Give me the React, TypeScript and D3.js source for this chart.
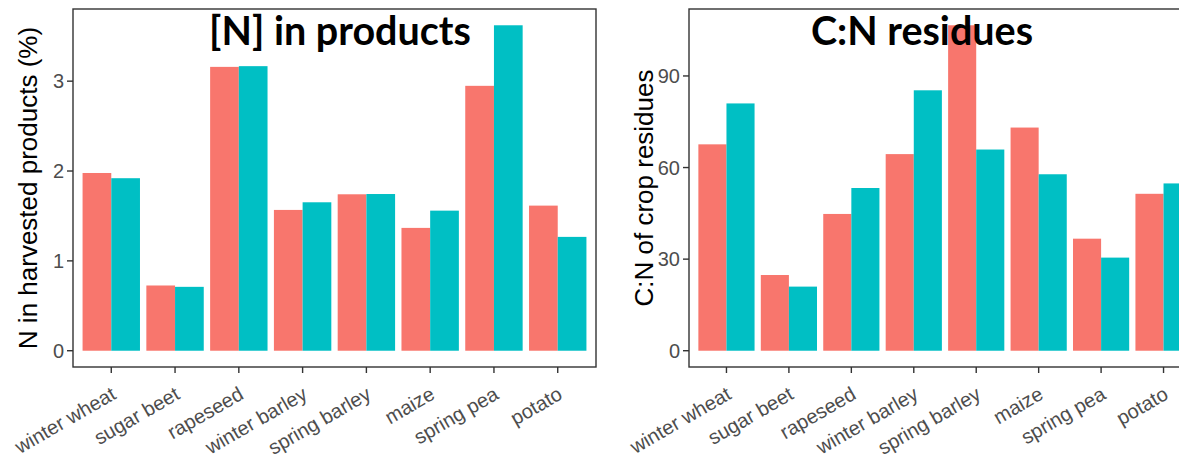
import React from "react";
import * as d3 from "d3";

const crops = ["winter wheat", "sugar beet", "rapeseed", "winter barley", "spring barley", "maize", "spring pea", "potato"];
const nProductsA = [1.978, 0.726, 3.159, 1.567, 1.741, 1.367, 2.948, 1.615];
const nProductsB = [1.92, 0.711, 3.167, 1.652, 1.744, 1.559, 3.622, 1.267];
const cnResiduesA = [67.6, 24.8, 44.8, 64.4, 106.6, 73.1, 36.7, 51.4];
const cnResiduesB = [81.0, 21.0, 53.3, 85.3, 65.9, 57.8, 30.5, 54.8];
const nTicks = [0, 1, 2, 3];
const cnTicks = [0, 30, 60, 90];
const seriesColors = ["#F8766D", "#00BFC4"];

type PanelProps = {
  left: number;
  right: number;
  top: number;
  bottom: number;
  a: number[];
  b: number[];
  ticks: number[];
  yTitle: string;
  title: string;
  titleX: number;
};

function Panel({ left, right, top, bottom, a, b, ticks, yTitle, title, titleX }: PanelProps) {
  const maxV = d3.max([...a, ...b]) as number;
  const pad = maxV * 0.05;
  const y = d3.scaleLinear().domain([-pad, maxV + pad]).range([bottom, top]);
  const idx = d3.range(crops.length);
  const x = d3.scaleLinear().domain([0.4, crops.length + 0.6]).range([left, right]);
  const bw = x(1.9) - x(1);
  const half = bw / 2;
  const font = "'Liberation Sans', Arial, sans-serif";
  return (
    <g>
      {idx.map((i) => (
        <g key={i}>
          <rect x={x(i + 1) - half} y={y(a[i])} width={half} height={y(0) - y(a[i])} fill={seriesColors[0]} />
          <rect x={x(i + 1)} y={y(b[i])} width={half} height={y(0) - y(b[i])} fill={seriesColors[1]} />
        </g>
      ))}
      <rect x={left} y={top} width={right - left} height={bottom - top} fill="none" stroke="#333333" strokeWidth={1.4} />
      {ticks.map((t) => (
        <g key={t}>
          <line x1={left - 6} x2={left} y1={y(t)} y2={y(t)} stroke="#333333" strokeWidth={1.4} />
          <text x={left - 9} y={y(t)} dy="0.36em" textAnchor="end" fontFamily={font} fontSize={20} fill="#4D4D4D">
            {t}
          </text>
        </g>
      ))}
      {idx.map((i) => (
        <g key={i}>
          <line x1={x(i + 1)} x2={x(i + 1)} y1={bottom} y2={bottom + 6} stroke="#333333" strokeWidth={1.4} />
          <text
            transform={`translate(${x(i + 1) + 6},${bottom + 31}) rotate(-30)`}
            textAnchor="end"
            fontFamily={font}
            fontSize={20}
            fill="#4D4D4D"
          >
            {crops[i]}
          </text>
        </g>
      ))}
      <text
        transform={`translate(${left - 36},${(top + bottom) / 2}) rotate(-90)`}
        textAnchor="middle"
        fontFamily={font}
        fontSize={26}
        fill="#000000"
      >
        {yTitle}
      </text>
      <text x={titleX} y={45} textAnchor="middle" fontFamily="Lato, sans-serif" fontWeight="bold" fontSize={39.5} fill="#000000">
        {title}
      </text>
    </g>
  );
}

export default function App() {
  return (
    <svg width={1179} height={456} style={{ display: "block", position: "absolute", left: 0, top: 0, background: "#ffffff" }}>
      <rect x={0} y={0} width={1179} height={456} fill="#ffffff" />
      <Panel left={73} right={596} top={9} bottom={367} a={nProductsA} b={nProductsB} ticks={nTicks} yTitle="N in harvested products (%)" title="[N] in products" titleX={340} />
      <Panel left={689} right={1201} top={9} bottom={367} a={cnResiduesA} b={cnResiduesB} ticks={cnTicks} yTitle="C:N of crop residues" title="C:N residues" titleX={922} />
    </svg>
  );
}
